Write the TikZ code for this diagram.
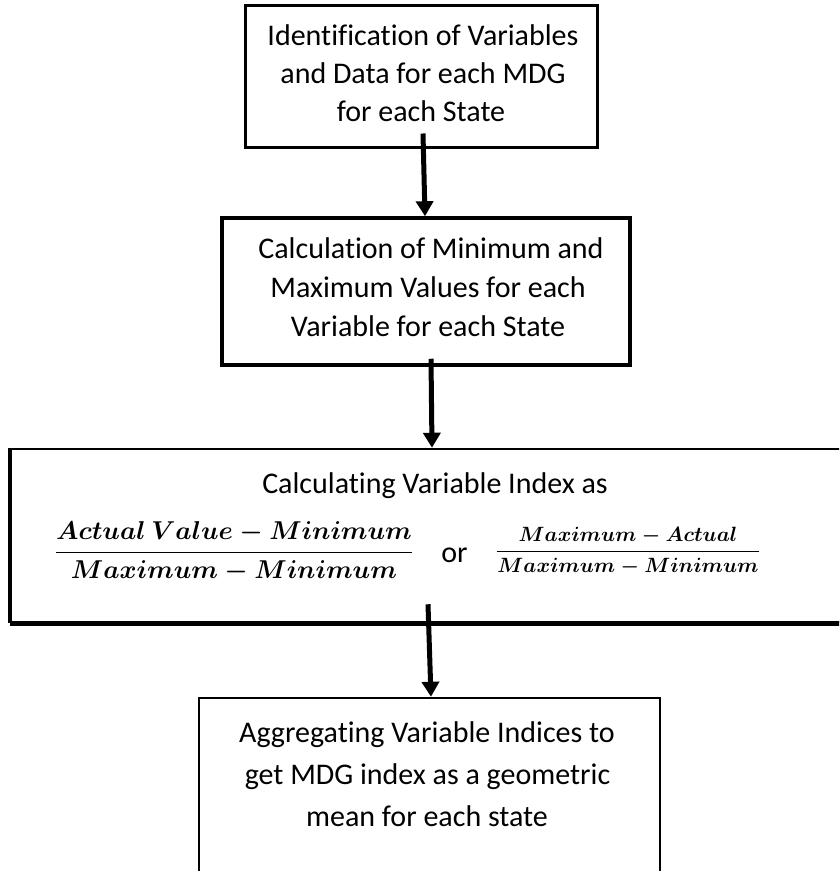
\documentclass[tikz,border=0pt]{standalone}
\usepackage{fontspec}
\setmainfont{Carlito}[Ligatures={NoCommon}]
\usepackage{graphicx}
\usetikzlibrary{arrows.meta}
\begin{document}
\begin{tikzpicture}[x=1pt,y=-1pt,
  box/.style={draw=black, rectangle, inner sep=0pt},
  txt/.style={anchor=base, inner sep=0pt, font=\fontsize{30}{36}\selectfont},
  frac/.style={anchor=center, inner sep=0pt},
  arr/.style={line width=5pt, -{Triangle[width=17pt,length=15pt]}}]
\clip (0,0) rectangle (839,871);
\fill[white] (0,0) rectangle (839,871);
% boxes
\node[box, line width=3pt, minimum width=352pt, minimum height=141.5pt] (b1) at (421,76.25) {};
\node[box, line width=3.5pt, minimum width=408pt, minimum height=147pt] (b2) at (426,291.5) {};
\node[box, line width=2.5pt, minimum width=834pt, minimum height=173pt] (b3) at (428,535.5) {};
\draw[line width=4.5pt] (b3.south west) -- (b3.south east);
\draw[line width=4pt] (b3.north west) -- (b3.south west);
\node[box, line width=2.5pt, minimum width=461pt, minimum height=192pt] (b4) at (429.5,794) {};
% texts box 1
\node[txt] (t1a) at (423,45) {Identification of Variables};
\node[txt] (t1b) at (423,83) {and Data for each MDG};
\node[txt] (t1c) at (421,121) {for each State};
% texts box 2
\node[txt] (t2a) at (431,258) {Calculation of Minimum and};
\node[txt] (t2b) at (428,297) {Maximum Values for each};
\node[txt] (t2c) at (428,336) {Variable for each State};
% texts box 3
\node[txt] (t3a) at (435,493) {Calculating Variable Index as};
\node[frac] (f1) at (234,552) {\resizebox{362pt}{!}{\boldmath$\displaystyle\frac{Actual\ Value-Minimum}{Maximum-Minimum}$}};
\node[txt] (t3or) at (454.5,562) {or};
\node[frac] (f2) at (628,551) {\resizebox{266pt}{!}{\boldmath$\displaystyle\frac{Maximum-Actual}{Maximum-Minimum}$}};
% texts box 4
\node[txt] (t4a) at (427,742) {Aggregating Variable Indices to};
\node[txt] (t4b) at (427.5,784) {get MDG index as a geometric};
\node[txt] (t4c) at (427,826) {mean for each state};
% arrows
\draw[arr] ([xshift=2pt,yshift=15pt]b1.south) -- ([xshift=-1pt]b2.north);
\draw[arr] ([xshift=5pt,yshift=8pt]b2.south) -- ([xshift=4pt]b3.north);
\draw[arr] ([yshift=19pt]b3.south) -- ([xshift=1.5pt]b4.north);
\end{tikzpicture}
\end{document}
